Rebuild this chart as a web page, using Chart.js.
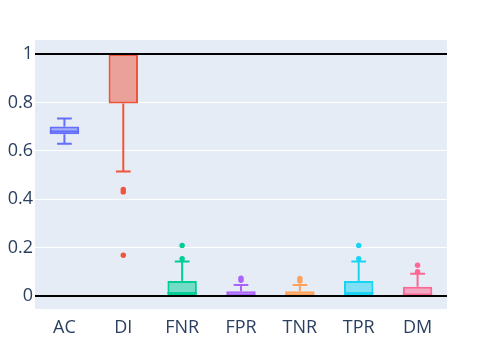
<!DOCTYPE html>
<html>
  <head>
    <title>Box plot</title>
    <script src="https://cdn.jsdelivr.net/npm/chart.js"></script>
    <style>
      body { margin: 0; background: #fff; }
    </style>
  </head>
  <body>
    <canvas id="myChart" width="482" height="344"></canvas>

    <script>
      // values
      const categories = ["AC", "DI", "FNR", "FPR", "TNR", "TPR", "DM"];
      const q1 = [0.668, 0.796, 0, 0, 0, 0, 0];
      const medians = [0.68, 1.0, 0.012, 0, 0, 0.012, 0.005];
      const q3 = [0.70, 1.0, 0.062, 0.019, 0.019, 0.062, 0.038];
      const lowerWhisker = [0.629, 0.514, 0, 0, 0, 0, 0];
      const upperWhisker = [0.734, 1.0, 0.142, 0.045, 0.045, 0.142, 0.092];
      const outliers = [
        [],
        [0.44, 0.43, 0.168],
        [0.154, 0.209],
        [0.073, 0.065],
        [0.072, 0.062],
        [0.154, 0.209],
        [0.10, 0.127]
      ];
      const yTicks = [0, 0.2, 0.4, 0.6, 0.8, 1];
      const blackLines = [0, 1];

      const colors = ["#636efa", "#EF553B", "#00cc96", "#ab63fa", "#FFA15A", "#19d3f3", "#FF6692"];

      function alpha(hex, a) {
        const n = parseInt(hex.slice(1), 16);
        return `rgba(${(n >> 16) & 255},${(n >> 8) & 255},${n & 255},${a})`;
      }

      const outlierPoints = [];
      const outlierColors = [];
      outliers.forEach((list, i) => {
        list.forEach((v) => {
          outlierPoints.push({ x: categories[i], y: v });
          outlierColors.push(colors[i]);
        });
      });

      // whiskers + median lines drawn with the chart's own scales
      const boxExtras = {
        id: "boxExtras",
        beforeDatasetsDraw(chart) {
          const ctx = chart.ctx;
          const xs = chart.scales.x;
          const ys = chart.scales.y;
          const meta = chart.getDatasetMeta(0);
          ctx.save();
          ctx.lineWidth = 2;
          categories.forEach((c, i) => {
            const bar = meta.data[i];
            const cx = xs.getPixelForValue(i);
            const half = bar.width / 4;
            ctx.strokeStyle = colors[i];
            ctx.beginPath();
            ctx.moveTo(cx, ys.getPixelForValue(q3[i]));
            ctx.lineTo(cx, ys.getPixelForValue(upperWhisker[i]));
            ctx.moveTo(cx - half, ys.getPixelForValue(upperWhisker[i]));
            ctx.lineTo(cx + half, ys.getPixelForValue(upperWhisker[i]));
            ctx.moveTo(cx, ys.getPixelForValue(q1[i]));
            ctx.lineTo(cx, ys.getPixelForValue(lowerWhisker[i]));
            ctx.moveTo(cx - half, ys.getPixelForValue(lowerWhisker[i]));
            ctx.lineTo(cx + half, ys.getPixelForValue(lowerWhisker[i]));
            ctx.stroke();
          });
          ctx.restore();
        },
        afterDatasetDraw(chart, args) {
          if (args.index !== 0) return;
          const ctx = chart.ctx;
          const ys = chart.scales.y;
          const meta = chart.getDatasetMeta(0);
          ctx.save();
          ctx.lineWidth = 2;
          categories.forEach((c, i) => {
            const bar = meta.data[i];
            const y = ys.getPixelForValue(medians[i]);
            ctx.strokeStyle = colors[i];
            ctx.beginPath();
            ctx.moveTo(bar.x - bar.width / 2, y);
            ctx.lineTo(bar.x + bar.width / 2, y);
            ctx.stroke();
          });
          // black reference lines sit on top of the boxes
          const a = chart.chartArea;
          ctx.strokeStyle = "#000";
          blackLines.forEach((v) => {
            const y = ys.getPixelForValue(v);
            ctx.beginPath();
            ctx.moveTo(a.left, y);
            ctx.lineTo(a.right, y);
            ctx.stroke();
          });
          ctx.restore();
        }
      };

      const plotBg = {
        id: "plotBg",
        beforeDraw(chart) {
          const a = chart.chartArea;
          chart.ctx.save();
          chart.ctx.fillStyle = "#E5ECF6";
          chart.ctx.fillRect(a.left, a.top, a.right - a.left, a.bottom - a.top);
          chart.ctx.restore();
        }
      };

      const ctx = document.getElementById("myChart").getContext("2d");

      const myChart = new Chart(ctx, {
        type: "bar",
        data: {
          labels: categories,
          datasets: [
            {
              type: "bar",
              data: categories.map((c, i) => [q1[i], q3[i]]),
              backgroundColor: colors.map((c) => alpha(c, 0.5)),
              borderColor: colors,
              borderWidth: 2,
              borderSkipped: false,
              categoryPercentage: 1,
              barPercentage: 0.5
            },
            {
              type: "scatter",
              data: outlierPoints,
              pointBackgroundColor: outlierColors,
              pointBorderWidth: 0,
              pointRadius: 2.7
            }
          ]
        },
        options: {
          responsive: false,
          animation: false,
          layout: { padding: { top: 40, right: 35, left: 0, bottom: 0 } },
          plugins: {
            legend: { display: false },
            tooltip: { enabled: false }
          },
          scales: {
            x: {
              type: "category",
              grid: { display: false },
              border: { display: false },
              ticks: {
                color: "#2a3f5f",
                font: { family: "Open Sans", size: 18 },
                padding: 0,
                maxRotation: 0
              },
              afterFit(scale) { scale.height = 35; }
            },
            y: {
              type: "linear",
              min: -0.054,
              max: 1.058,
              border: { display: false },
              grid: {
                drawTicks: false,
                color: "#fff",
                lineWidth: 1
              },
              ticks: {
                color: "#2a3f5f",
                font: { family: "Open Sans", size: 18 },
                padding: 2,
                callback: (v) => String(Math.round(v * 10) / 10)
              },
              afterBuildTicks(scale) {
                scale.ticks = yTicks.map((v) => ({ value: v }));
              },
              afterFit(scale) { scale.width = 35; }
            }
          }
        },
        plugins: [plotBg, boxExtras]
      });
    </script>
  </body>
</html>
